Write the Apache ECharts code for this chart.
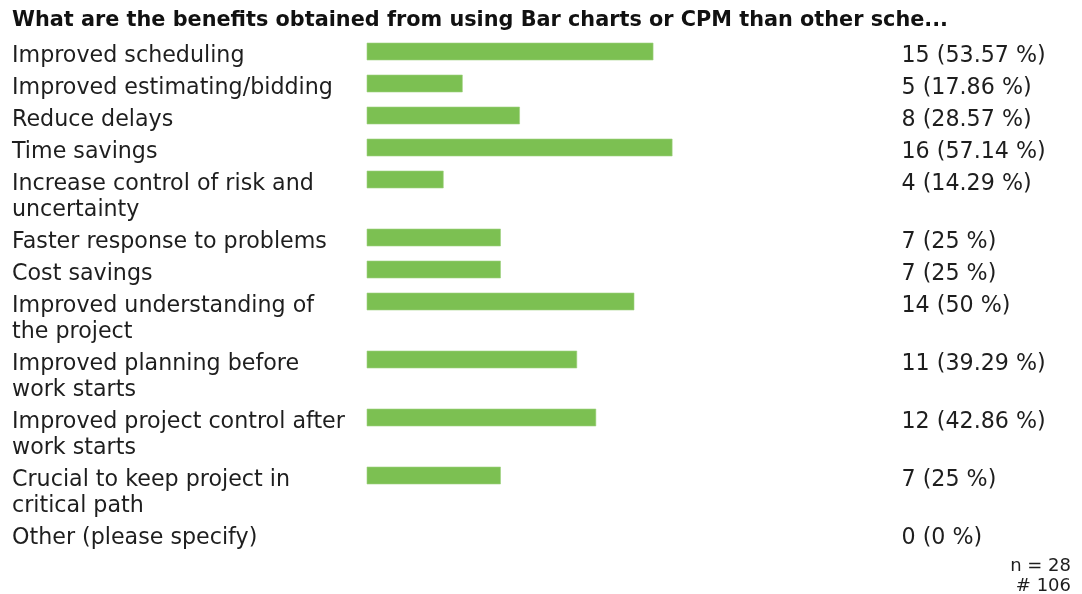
<!DOCTYPE html>
<html>
<head>
<meta charset="utf-8">
<script src="https://cdn.jsdelivr.net/npm/echarts@6/dist/echarts.min.js"></script>
<style>
  html, body { margin: 0; padding: 0; background: #fff; }
  #chart { width: 1082px; height: 594px; }
</style>
</head>
<body>
<div id="chart"></div>
<script>
// Survey question and answer options (line breaks as shown in the table)
const title = 'What are the benefits obtained from using Bar charts or CPM than other sche...';
const categories = [
  'Improved scheduling',
  'Improved estimating/bidding',
  'Reduce delays',
  'Time savings',
  'Increase control of risk and\nuncertainty',
  'Faster response to problems',
  'Cost savings',
  'Improved understanding of\nthe project',
  'Improved planning before\nwork starts',
  'Improved project control after\nwork starts',
  'Crucial to keep project in\ncritical path',
  'Other (please specify)'
];
const counts = [15, 5, 8, 16, 4, 7, 7, 14, 11, 12, 7, 0];
const respondents = 28;

// Row layout: each row is as tall as its wrapped label
const FIRST_ROW = 43, ONE_LINE = 32, LINE_STEP = 26, BAR_H = 17;
const rowTops = [];
let acc = FIRST_ROW;
categories.forEach(c => {
  rowTops.push(acc);
  const lines = c.split('\n').length;
  acc += ONE_LINE + (lines - 1) * LINE_STEP;
});

const totalAnswers = counts.reduce((a, b) => a + b, 0);
const fmtPct = v => {
  const p = Math.round(v / respondents * 10000) / 100;
  return p + ' %';
};

const FONT = '"DejaVu Sans", Verdana, sans-serif';
const TEXT_COLOR = '#1e1e1e';
const TEXT_SIZE = 22.2;

const chart = echarts.init(document.getElementById('chart'), null, { renderer: 'canvas' });
chart.setOption({
  backgroundColor: '#ffffff',
  animation: false,
  title: {
    text: title,
    left: 12, top: 10, padding: 0,
    textStyle: { fontFamily: FONT, fontSize: 20.8, fontWeight: 'bold', color: '#111' }
  },
  grid: { left: 367, right: 181, top: 0, bottom: 0 },
  xAxis: { type: 'value', min: 0, max: respondents, show: false },
  yAxis: { type: 'value', min: 0, max: 594, inverse: true, show: false },
  series: [{
    type: 'custom',
    clip: false,
    data: counts.map((v, i) => [v, rowTops[i], i]),
    renderItem: (params, api) => {
      const v = api.value(0), top = api.value(1), i = api.value(2);
      const start = api.coord([0, top]);
      const end = api.coord([v, top]);
      const right = api.coord([respondents, top]);
      const children = [];
      if (v > 0) {
        children.push({
          type: 'rect',
          shape: { x: start[0], y: start[1], width: end[0] - start[0], height: BAR_H },
          style: { fill: '#7cc052', stroke: '#9fd27f', lineWidth: 0.6 }
        });
      }
      children.push({
        type: 'text',
        style: {
          x: 12, y: start[1] + 13 - LINE_STEP / 2,
          text: categories[i],
          font: TEXT_SIZE + 'px ' + FONT,
          lineHeight: LINE_STEP,
          fill: TEXT_COLOR,
          verticalAlign: 'top'
        }
      });
      children.push({
        type: 'text',
        style: {
          x: right[0] + 0.5, y: start[1] + 13,
          text: v + ' (' + fmtPct(v) + ')',
          font: TEXT_SIZE + 'px ' + FONT,
          fill: TEXT_COLOR,
          verticalAlign: 'middle'
        }
      });
      return { type: 'group', children };
    }
  }],
  graphic: [
    {
      type: 'text', right: 11, top: 557,
      style: { text: 'n = ' + respondents, font: '18px ' + FONT, fill: TEXT_COLOR, textAlign: 'right' }
    },
    {
      type: 'text', right: 11, top: 577,
      style: { text: '# ' + totalAnswers, font: '18px ' + FONT, fill: TEXT_COLOR, textAlign: 'right' }
    }
  ]
});
</script>
</body>
</html>
